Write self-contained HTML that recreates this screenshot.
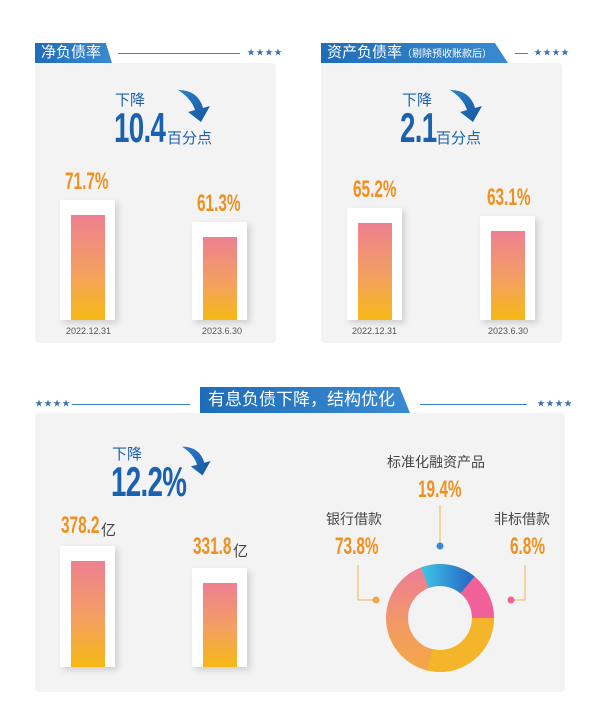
<!DOCTYPE html>
<html><head><meta charset="utf-8"><style>
body{margin:0;width:600px;height:720px;background:#fff;position:relative;overflow:hidden;font-family:"Liberation Sans","Noto Sans CJK SC",sans-serif}
.a{position:absolute;white-space:nowrap}
.panel{position:absolute;background:#f3f3f4;border-radius:4px}
.tab{position:absolute;background:linear-gradient(90deg,#1f6db8,#3a8ad2);color:#fff;font-size:15px;line-height:20px;height:20px}
.num{font-weight:bold;color:#f0901e;transform:scaleX(0.64);transform-origin:0 0}
.big{font-weight:bold;color:#1a62ad;transform:scaleX(0.66);transform-origin:0 0;letter-spacing:-1px}
.cn{color:#1a62ad;font-size:15px}
.box{position:absolute;background:#fff;box-shadow:3px 3px 6px rgba(0,0,0,.15)}
.bar{position:absolute;background:linear-gradient(180deg,#ee8092,#f3a060 55%,#f6b914)}
.date{font-size:9px;color:#555;position:absolute}
.line{position:absolute;height:1px;background:#3b82c9}
.star{position:absolute;color:#3b6fb0;font-size:8px;letter-spacing:1px}
.lbl{font-size:14px;color:#444}
.yi{font-size:15px;color:#444}
</style></head><body>
<svg width="0" height="0" style="position:absolute"><defs>
<linearGradient id="ar" x1="0" y1="0" x2="1" y2="1"><stop offset="0" stop-color="#2b7fcf"/><stop offset="1" stop-color="#15559c"/></linearGradient></defs></svg>

<!-- panel 1 -->
<div class="panel" style="left:35px;top:63px;width:241px;height:280px"></div>
<div class="tab" style="left:35px;top:43px;padding-left:6px;clip-path:polygon(0 0,92% 0,100% 100%,0 100%);width:71px">净负债率</div>
<div class="line" style="left:118px;top:53px;width:122px"></div>
<div class="star" style="left:247px;top:47px">★★★★</div>
<div class="a cn" style="left:115px;top:89px">下降</div>
<div class="a big" style="left:114px;top:104px;font-size:42px">10.4</div>
<div class="a cn" style="left:167px;top:127px;font-size:15px">百分点</div>
<svg class="a" style="left:176px;top:88px" width="40" height="36" viewBox="0 0 40 36"><path d="M2 2 Q22 2 27 20 L34 18 L25 34 L12 24 L19 22 Q15 10 2 2Z" fill="url(#ar)"/></svg>
<div class="a num" style="left:65px;top:168px;font-size:24px">71.7%</div>
<div class="box" style="left:60px;top:200px;width:55px;height:120px"></div>
<div class="bar" style="left:71px;top:215px;width:34px;height:105px"></div>
<div class="a num" style="left:197px;top:190px;font-size:24px">61.3%</div>
<div class="box" style="left:192px;top:222px;width:55px;height:98px"></div>
<div class="bar" style="left:203px;top:237px;width:34px;height:83px"></div>
<div class="date" style="left:66px;top:326px">2022.12.31</div>
<div class="date" style="left:202px;top:326px">2023.6.30</div>

<!-- panel 2 -->
<div class="panel" style="left:321px;top:63px;width:241px;height:280px"></div>
<div class="tab" style="left:321px;top:43px;width:181px;padding-left:6px;clip-path:polygon(0 0,93% 0,100% 100%,0 100%)">资产负债率<span style="font-size:10px">（剔除预收账款后）</span></div>
<div class="line" style="left:515px;top:53px;width:13px"></div>
<div class="star" style="left:534px;top:47px">★★★★</div>
<div class="a cn" style="left:402px;top:89px">下降</div>
<div class="a big" style="left:400px;top:104px;font-size:42px">2.1</div>
<div class="a cn" style="left:436px;top:127px">百分点</div>
<svg class="a" style="left:448px;top:88px" width="40" height="36" viewBox="0 0 40 36"><path d="M2 2 Q22 2 27 20 L34 18 L25 34 L12 24 L19 22 Q15 10 2 2Z" fill="url(#ar)"/></svg>
<div class="a num" style="left:353px;top:176px;font-size:24px">65.2%</div>
<div class="box" style="left:347px;top:208px;width:55px;height:112px"></div>
<div class="bar" style="left:358px;top:223px;width:34px;height:97px"></div>
<div class="a num" style="left:487px;top:184px;font-size:24px">63.1%</div>
<div class="box" style="left:480px;top:216px;width:55px;height:104px"></div>
<div class="bar" style="left:491px;top:231px;width:34px;height:89px"></div>
<div class="date" style="left:352px;top:326px">2022.12.31</div>
<div class="date" style="left:488px;top:326px">2023.6.30</div>

<!-- bottom -->
<div class="panel" style="left:35px;top:413px;width:530px;height:279px"></div>
<div class="tab" style="left:200px;top:387px;width:202px;height:26px;line-height:26px;font-size:17px;padding-left:8px;clip-path:polygon(0 0,95% 0,100% 100%,0 100%)">有息负债下降，结构优化</div>
<div class="star" style="left:35px;top:398px">★★★★</div>
<div class="line" style="left:72px;top:404px;width:118px"></div>
<div class="line" style="left:420px;top:404px;width:107px"></div>
<div class="star" style="left:537px;top:398px">★★★★</div>
<div class="a cn" style="left:112px;top:443px">下降</div>
<div class="a big" style="left:111px;top:458px;font-size:42px">12.2%</div>
<svg class="a" style="left:180px;top:444px" width="36" height="34" viewBox="0 0 40 36"><path d="M2 2 Q22 2 27 20 L34 18 L25 34 L12 24 L19 22 Q15 10 2 2Z" fill="url(#ar)"/></svg>
<div class="a num" style="left:61px;top:512px;font-size:24px">378.2</div>
<div class="a yi" style="left:101px;top:519px">亿</div>
<div class="box" style="left:60px;top:546px;width:55px;height:121px"></div>
<div class="bar" style="left:71px;top:561px;width:34px;height:106px"></div>
<div class="a num" style="left:193px;top:533px;font-size:24px">331.8</div>
<div class="a yi" style="left:233px;top:540px">亿</div>
<div class="box" style="left:192px;top:568px;width:55px;height:99px"></div>
<div class="bar" style="left:203px;top:583px;width:34px;height:84px"></div>

<svg class="a" style="left:300px;top:440px" width="265" height="250">
<defs>
<linearGradient id="dg" x1="0" y1="0" x2="0" y2="1"><stop offset="0" stop-color="#ee8092"/><stop offset="0.6" stop-color="#f29a62"/><stop offset="1" stop-color="#f3a54c"/></linearGradient>
<linearGradient id="bg" x1="0" y1="0" x2="1" y2="0"><stop offset="0" stop-color="#3cc0e6"/><stop offset="1" stop-color="#2a6fc7"/></linearGradient>
</defs>
<g transform="translate(140,178)" fill="none" stroke-width="22">
<circle r="43" stroke="url(#dg)"/>
<path d="M43 0 A43 43 0 0 1 -10 41.8" stroke="#f5b52a"/>
<path d="M-15 -40.3 A43 43 0 0 1 27.6 -33" stroke="url(#bg)"/>
<path d="M27.6 -33 A43 43 0 0 1 43 0" stroke="#f2609a"/>
</g>
<g stroke="#f1b548" stroke-width="1" fill="none">
<path d="M140 65 V105"/><path d="M58 125 V160 H75"/><path d="M225 125 V160 H212"/>
</g>
<circle cx="140" cy="106" r="3.5" fill="#3a8ad2"/>
<circle cx="76" cy="160" r="3.5" fill="#f3a54c"/>
<circle cx="211" cy="160" r="3.5" fill="#f2609a"/>
</svg>
<div class="a lbl" style="left:387px;top:452px">标准化融资产品</div>
<div class="a num" style="left:418px;top:476px;font-size:24px">19.4%</div>
<div class="a lbl" style="left:326px;top:509px">银行借款</div>
<div class="a num" style="left:335px;top:533px;font-size:24px">73.8%</div>
<div class="a lbl" style="left:494px;top:509px">非标借款</div>
<div class="a num" style="left:510px;top:533px;font-size:24px">6.8%</div>
</body></html>
